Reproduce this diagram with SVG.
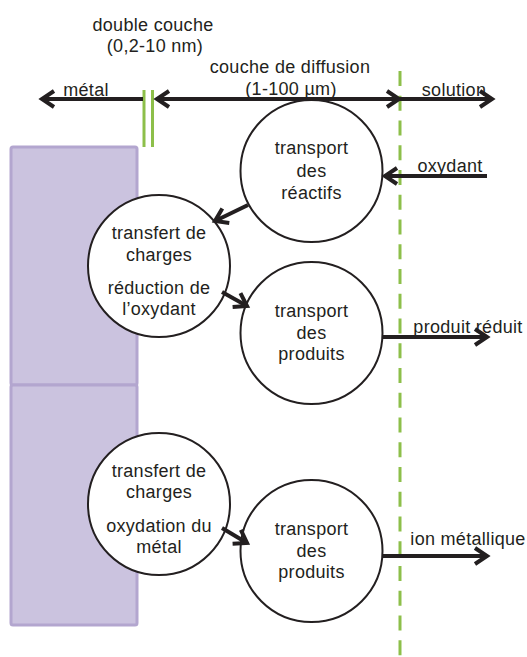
<svg xmlns="http://www.w3.org/2000/svg" width="527" height="657" viewBox="0 0 527 657">
<style>
text{font-family:"Liberation Sans",Arial,sans-serif;font-size:18px;fill:#231f20;text-anchor:middle;letter-spacing:0.3px}
.c{fill:#fff;stroke:#231f20;stroke-width:2}
.a{stroke:#231f20;stroke-width:4;fill:none}
.g{stroke:#8dbf4a;stroke-width:3;fill:none}
.m{fill:#cbc3df;stroke:#b3a6cf;stroke-width:3}
</style>
<defs>
<marker id="ah" viewBox="-16 -11 20 22" refX="0" refY="0" markerWidth="20" markerHeight="22" markerUnits="userSpaceOnUse" orient="auto-start-reverse">
<path d="M-12,-8 L0,0 L-12,8" fill="none" stroke="#231f20" stroke-width="4"/>
</marker>
</defs>
<g id="metal">
<rect class="m" x="11" y="147" width="126" height="238" rx="2"/>
<rect class="m" x="11" y="385" width="126" height="240" rx="2"/>
</g>
<g id="guides">
<line class="g" x1="400" y1="71" x2="400" y2="657" stroke-width="3.5" stroke-dasharray="15 9.75"/>
<line class="g" x1="144" y1="90" x2="144" y2="147"/>
<line class="g" x1="152.5" y1="90" x2="152.5" y2="147"/>
</g>
<g id="labels">
<text x="153" y="31">double couche</text>
<text x="155" y="52">(0,2-10 nm)</text>
<text x="290" y="73">couche de diffusion</text>
<text x="291" y="95">(1-100 µm)</text>
<text x="86" y="96">métal</text>
<text x="454" y="96">solution</text>
<text x="450" y="172">oxydant</text>
<text x="468" y="333">produit réduit</text>
<text x="468" y="545">ion métallique</text>
</g>
<g id="n1">
<circle class="c" cx="311.5" cy="171" r="71"/>
<text x="311.5" y="154">transport</text>
<text x="311.5" y="177">des</text>
<text x="311.5" y="199">réactifs</text>
</g>
<g id="n2">
<circle class="c" cx="159" cy="266" r="71"/>
<text x="159" y="239">transfert de</text>
<text x="159" y="261">charges</text>
<text x="159" y="294">réduction de</text>
<text x="159" y="315">l’oxydant</text>
</g>
<g id="n3">
<circle class="c" cx="311.5" cy="333" r="71"/>
<text x="311.5" y="317">transport</text>
<text x="311.5" y="339">des</text>
<text x="311.5" y="360">produits</text>
</g>
<g id="n4">
<circle class="c" cx="159" cy="504" r="71"/>
<text x="159" y="477">transfert de</text>
<text x="159" y="498">charges</text>
<text x="159" y="532">oxydation du</text>
<text x="159" y="553">métal</text>
</g>
<g id="n5">
<circle class="c" cx="311.5" cy="551" r="71"/>
<text x="311.5" y="535">transport</text>
<text x="311.5" y="557">des</text>
<text x="311.5" y="578">produits</text>
</g>
<g id="connectors">
<line class="a" x1="143" y1="99" x2="42" y2="99" marker-end="url(#ah)"/>
<line class="a" x1="157" y1="99" x2="399" y2="99" marker-start="url(#ah)" marker-end="url(#ah)"/>
<line class="a" x1="399" y1="99" x2="492" y2="99" marker-end="url(#ah)"/>
<line class="a" x1="487" y1="176" x2="385" y2="176" marker-end="url(#ah)"/>
<line class="a" x1="248" y1="205" x2="215" y2="221" marker-end="url(#ah)"/>
<line class="a" x1="222" y1="292" x2="247" y2="306" marker-end="url(#ah)"/>
<line class="a" x1="383" y1="337" x2="487" y2="337" marker-end="url(#ah)"/>
<line class="a" x1="222" y1="528" x2="247" y2="543" marker-end="url(#ah)"/>
<line class="a" x1="383" y1="556" x2="487" y2="556" marker-end="url(#ah)"/>
</g>
</svg>
